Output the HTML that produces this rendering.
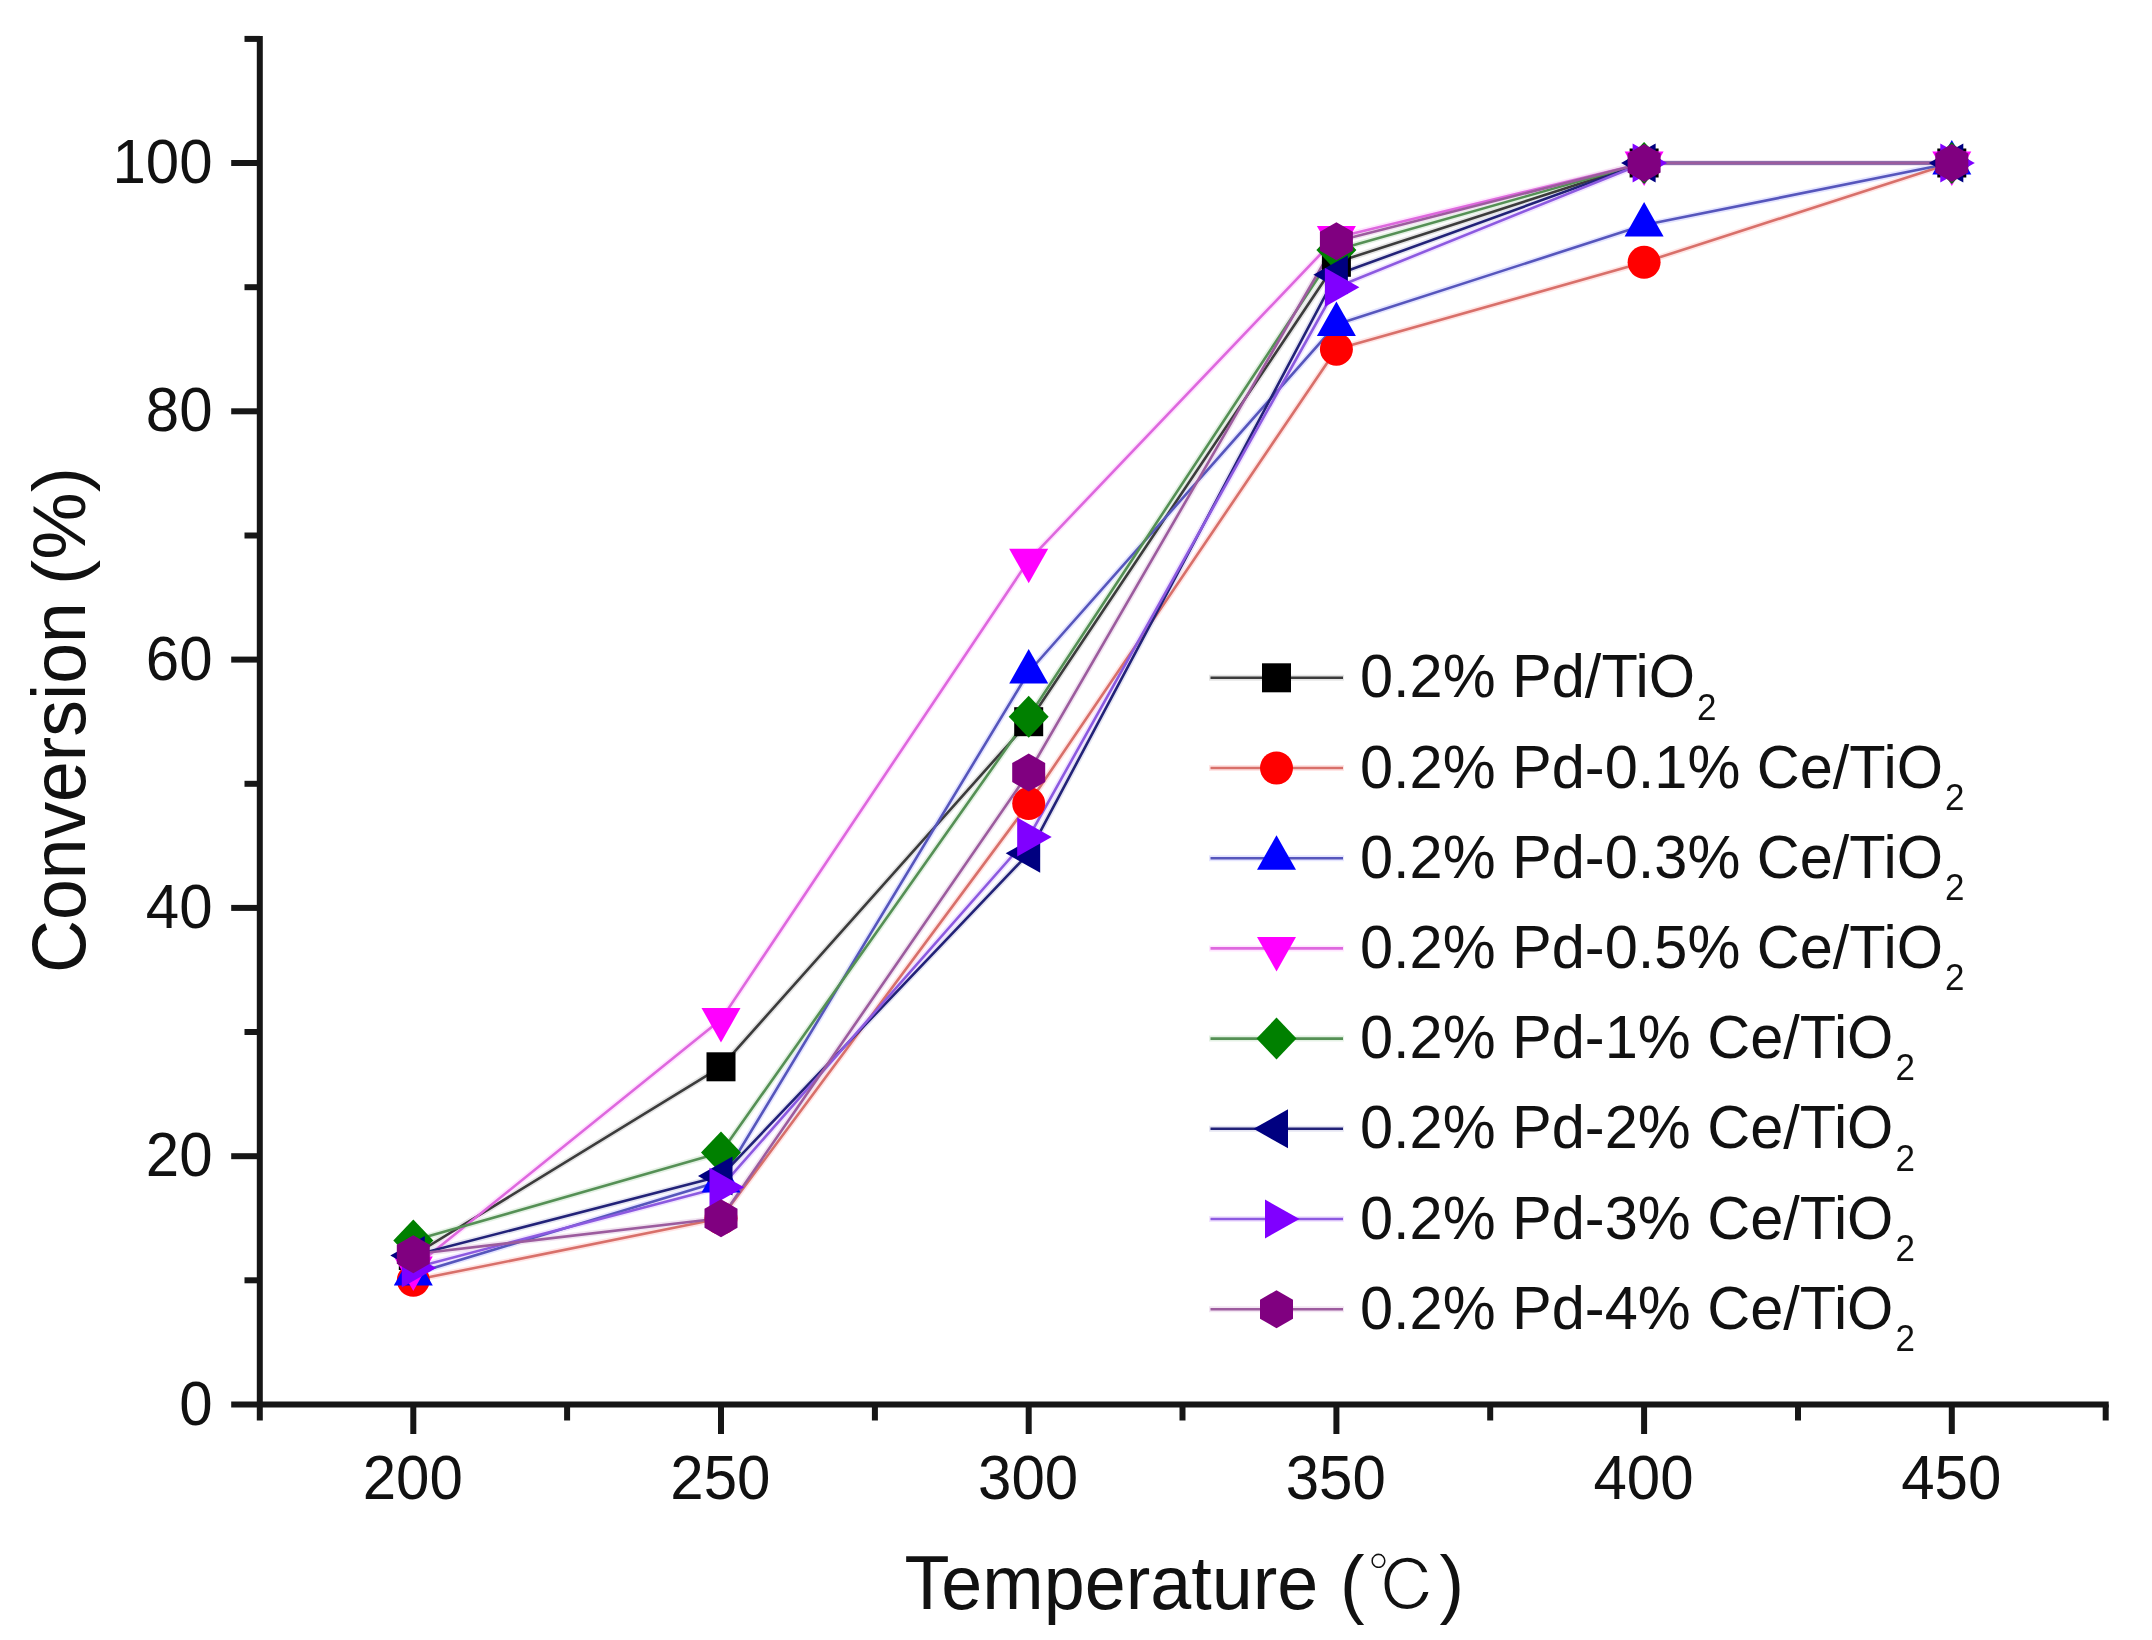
<!DOCTYPE html>
<html lang="en">
<head>
<meta charset="utf-8">
<title>Conversion vs Temperature</title>
<style>
html,body{margin:0;padding:0;background:#fff;}
body{width:2152px;height:1640px;overflow:hidden;}
svg{display:block;filter:blur(0.7px);}
text{font-family:"Liberation Sans","Noto Sans CJK SC",sans-serif;fill:#111111;}
.tick{font-size:60px;}
.lab{font-size:73.7px;}
.leg{font-size:59.5px;}
.sub{font-size:35px;}
.cjk{font-family:"Liberation Sans","IPAGothic","Noto Sans CJK SC",sans-serif;}
</style>
</head>
<body>
<svg width="2152" height="1640" viewBox="0 0 2152 1640">
<rect width="2152" height="1640" fill="#ffffff"/>
<g fill="none" stroke-width="6" stroke-linejoin="round" opacity="0.1">
<polyline points="413.3,1255.5 721,1066.8 1028.7,721.7 1336.4,262.3 1644.1,163 1951.8,163" stroke="#000000"/>
<polyline points="413.3,1280.3 721,1218.3 1028.7,803.6 1336.4,349.2 1644.1,262.3 1951.8,163" stroke="#ff0000"/>
<polyline points="413.3,1274.1 721,1181 1028.7,672 1336.4,324.4 1644.1,225.1 1951.8,163" stroke="#0000ff"/>
<polyline points="413.3,1267.9 721,1019.6 1028.7,560.3 1336.4,237.5 1644.1,163 1951.8,163" stroke="#ff00ff"/>
<polyline points="413.3,1240.6 721,1152.5 1028.7,716.7 1336.4,249.9 1644.1,163 1951.8,163" stroke="#008000"/>
<polyline points="413.3,1255.5 721,1176.1 1028.7,853.3 1336.4,274.7 1644.1,163 1951.8,163" stroke="#000080"/>
<polyline points="413.3,1267.9 721,1187.2 1028.7,837.1 1336.4,287.2 1644.1,163 1951.8,163" stroke="#8000ff"/>
<polyline points="413.3,1254.3 721,1218.3 1028.7,772.6 1336.4,241.2 1644.1,163 1951.8,163" stroke="#800080"/>
</g>
<g fill="none" stroke-width="2.6" stroke-linejoin="round">
<polyline points="413.3,1255.5 721,1066.8 1028.7,721.7 1336.4,262.3 1644.1,163 1951.8,163" stroke="#3c3c3c"/>
<polyline points="413.3,1280.3 721,1218.3 1028.7,803.6 1336.4,349.2 1644.1,262.3 1951.8,163" stroke="#d8706a"/>
<polyline points="413.3,1274.1 721,1181 1028.7,672 1336.4,324.4 1644.1,225.1 1951.8,163" stroke="#5656bc"/>
<polyline points="413.3,1267.9 721,1019.6 1028.7,560.3 1336.4,237.5 1644.1,163 1951.8,163" stroke="#de68de"/>
<polyline points="413.3,1240.6 721,1152.5 1028.7,716.7 1336.4,249.9 1644.1,163 1951.8,163" stroke="#559055"/>
<polyline points="413.3,1255.5 721,1176.1 1028.7,853.3 1336.4,274.7 1644.1,163 1951.8,163" stroke="#222278"/>
<polyline points="413.3,1267.9 721,1187.2 1028.7,837.1 1336.4,287.2 1644.1,163 1951.8,163" stroke="#8c5ae0"/>
<polyline points="413.3,1254.3 721,1218.3 1028.7,772.6 1336.4,241.2 1644.1,163 1951.8,163" stroke="#9c5c9e"/>
</g>
<g>
<rect x="398.8" y="1241" width="29" height="29" fill="#000000"/>
<rect x="706.5" y="1052.3" width="29" height="29" fill="#000000"/>
<rect x="1014.2" y="707.2" width="29" height="29" fill="#000000"/>
<rect x="1321.9" y="247.8" width="29" height="29" fill="#000000"/>
<rect x="1629.6" y="148.5" width="29" height="29" fill="#000000"/>
<rect x="1937.3" y="148.5" width="29" height="29" fill="#000000"/>
</g>
<g>
<circle cx="413.3" cy="1280.3" r="16.5" fill="#ff0000"/>
<circle cx="721" cy="1218.3" r="16.5" fill="#ff0000"/>
<circle cx="1028.7" cy="803.6" r="16.5" fill="#ff0000"/>
<circle cx="1336.4" cy="349.2" r="16.5" fill="#ff0000"/>
<circle cx="1644.1" cy="262.3" r="16.5" fill="#ff0000"/>
<circle cx="1951.8" cy="163" r="16.5" fill="#ff0000"/>
</g>
<g>
<polygon points="413.3,1251.1 393.8,1285.6 432.8,1285.6" fill="#0000ff"/>
<polygon points="721,1158 701.5,1192.5 740.5,1192.5" fill="#0000ff"/>
<polygon points="1028.7,649 1009.2,683.5 1048.2,683.5" fill="#0000ff"/>
<polygon points="1336.4,301.4 1316.9,335.9 1355.9,335.9" fill="#0000ff"/>
<polygon points="1644.1,202.1 1624.6,236.6 1663.6,236.6" fill="#0000ff"/>
<polygon points="1951.8,140 1932.3,174.5 1971.3,174.5" fill="#0000ff"/>
</g>
<g>
<polygon points="413.3,1290.9 393.8,1256.4 432.8,1256.4" fill="#ff00ff"/>
<polygon points="721,1042.6 701.5,1008.1 740.5,1008.1" fill="#ff00ff"/>
<polygon points="1028.7,583.3 1009.2,548.8 1048.2,548.8" fill="#ff00ff"/>
<polygon points="1336.4,260.5 1316.9,226 1355.9,226" fill="#ff00ff"/>
<polygon points="1644.1,186 1624.6,151.5 1663.6,151.5" fill="#ff00ff"/>
<polygon points="1951.8,186 1932.3,151.5 1971.3,151.5" fill="#ff00ff"/>
</g>
<g>
<polygon points="413.3,1219.6 433.3,1240.6 413.3,1261.6 393.3,1240.6" fill="#008000"/>
<polygon points="721,1131.5 741,1152.5 721,1173.5 701,1152.5" fill="#008000"/>
<polygon points="1028.7,695.7 1048.7,716.7 1028.7,737.7 1008.7,716.7" fill="#008000"/>
<polygon points="1336.4,228.9 1356.4,249.9 1336.4,270.9 1316.4,249.9" fill="#008000"/>
<polygon points="1644.1,142 1664.1,163 1644.1,184 1624.1,163" fill="#008000"/>
<polygon points="1951.8,142 1971.8,163 1951.8,184 1931.8,163" fill="#008000"/>
</g>
<g>
<polygon points="390.3,1255.5 424.8,1236 424.8,1275" fill="#000080"/>
<polygon points="698,1176.1 732.5,1156.6 732.5,1195.6" fill="#000080"/>
<polygon points="1005.7,853.3 1040.2,833.8 1040.2,872.8" fill="#000080"/>
<polygon points="1313.4,274.7 1347.9,255.2 1347.9,294.2" fill="#000080"/>
<polygon points="1621.1,163 1655.6,143.5 1655.6,182.5" fill="#000080"/>
<polygon points="1928.8,163 1963.3,143.5 1963.3,182.5" fill="#000080"/>
</g>
<g>
<polygon points="436.3,1267.9 401.8,1248.4 401.8,1287.4" fill="#8000ff"/>
<polygon points="744,1187.2 709.5,1167.7 709.5,1206.7" fill="#8000ff"/>
<polygon points="1051.7,837.1 1017.2,817.6 1017.2,856.6" fill="#8000ff"/>
<polygon points="1359.4,287.2 1324.9,267.7 1324.9,306.7" fill="#8000ff"/>
<polygon points="1667.1,163 1632.6,143.5 1632.6,182.5" fill="#8000ff"/>
<polygon points="1974.8,163 1940.3,143.5 1940.3,182.5" fill="#8000ff"/>
</g>
<g>
<polygon points="413.3,1235.3 429.8,1244.8 429.8,1263.8 413.3,1273.3 396.8,1263.8 396.8,1244.8" fill="#800080"/>
<polygon points="721,1199.3 737.5,1208.8 737.5,1227.8 721,1237.3 704.5,1227.8 704.5,1208.8" fill="#800080"/>
<polygon points="1028.7,753.6 1045.2,763.1 1045.2,782.1 1028.7,791.6 1012.2,782.1 1012.2,763.1" fill="#800080"/>
<polygon points="1336.4,222.2 1352.9,231.7 1352.9,250.7 1336.4,260.2 1319.9,250.7 1319.9,231.7" fill="#800080"/>
<polygon points="1644.1,144 1660.6,153.5 1660.6,172.5 1644.1,182 1627.6,172.5 1627.6,153.5" fill="#800080"/>
<polygon points="1951.8,144 1968.3,153.5 1968.3,172.5 1951.8,182 1935.3,172.5 1935.3,153.5" fill="#800080"/>
</g>
<g stroke="#161616" stroke-width="6" fill="none">
<line x1="259.8" y1="35.9" x2="259.8" y2="1420.5"/>
<line x1="231.2" y1="1404.5" x2="2108.7" y2="1404.5"/>
<line x1="244.5" y1="1280.3" x2="259.8" y2="1280.3"/>
<line x1="231.2" y1="1156.2" x2="259.8" y2="1156.2"/>
<line x1="244.5" y1="1032" x2="259.8" y2="1032"/>
<line x1="231.2" y1="907.9" x2="259.8" y2="907.9"/>
<line x1="244.5" y1="783.8" x2="259.8" y2="783.8"/>
<line x1="231.2" y1="659.6" x2="259.8" y2="659.6"/>
<line x1="244.5" y1="535.5" x2="259.8" y2="535.5"/>
<line x1="231.2" y1="411.3" x2="259.8" y2="411.3"/>
<line x1="244.5" y1="287.2" x2="259.8" y2="287.2"/>
<line x1="231.2" y1="163" x2="259.8" y2="163"/>
<line x1="244.5" y1="38.9" x2="259.8" y2="38.9"/>
<line x1="413.3" y1="1404.5" x2="413.3" y2="1434"/>
<line x1="567.1" y1="1404.5" x2="567.1" y2="1420.5"/>
<line x1="721" y1="1404.5" x2="721" y2="1434"/>
<line x1="874.9" y1="1404.5" x2="874.9" y2="1420.5"/>
<line x1="1028.7" y1="1404.5" x2="1028.7" y2="1434"/>
<line x1="1182.5" y1="1404.5" x2="1182.5" y2="1420.5"/>
<line x1="1336.4" y1="1404.5" x2="1336.4" y2="1434"/>
<line x1="1490.2" y1="1404.5" x2="1490.2" y2="1420.5"/>
<line x1="1644.1" y1="1404.5" x2="1644.1" y2="1434"/>
<line x1="1798" y1="1404.5" x2="1798" y2="1420.5"/>
<line x1="1951.8" y1="1404.5" x2="1951.8" y2="1434"/>
<line x1="2105.7" y1="1404.5" x2="2105.7" y2="1420.5"/>
</g>
<text class="tick" text-anchor="end" transform="translate(212.5,1424.5) scale(1,1.04)">0</text>
<text class="tick" text-anchor="end" transform="translate(212.5,1176.2) scale(1,1.04)">20</text>
<text class="tick" text-anchor="end" transform="translate(212.5,927.9) scale(1,1.04)">40</text>
<text class="tick" text-anchor="end" transform="translate(212.5,679.6) scale(1,1.04)">60</text>
<text class="tick" text-anchor="end" transform="translate(212.5,431.3) scale(1,1.04)">80</text>
<text class="tick" text-anchor="end" transform="translate(212.5,183) scale(1,1.04)">100</text>
<text class="tick" text-anchor="middle" transform="translate(412.7,1498.5) scale(1,1.04)">200</text>
<text class="tick" text-anchor="middle" transform="translate(720.4,1498.5) scale(1,1.04)">250</text>
<text class="tick" text-anchor="middle" transform="translate(1028.1,1498.5) scale(1,1.04)">300</text>
<text class="tick" text-anchor="middle" transform="translate(1335.8,1498.5) scale(1,1.04)">350</text>
<text class="tick" text-anchor="middle" transform="translate(1643.5,1498.5) scale(1,1.04)">400</text>
<text class="tick" text-anchor="middle" transform="translate(1951.2,1498.5) scale(1,1.04)">450</text>
<text class="lab" transform="translate(904.5,1608.5) scale(1,1.04)">Temperature</text>
<text class="lab" transform="translate(1340,1608.5) scale(1,1.04)">(</text>
<text class="lab cjk" stroke="#ffffff" stroke-width="1.6" transform="translate(1367,1612) scale(0.95,0.97)">℃</text>
<text class="lab" transform="translate(1439.5,1608.5) scale(1,1.04)">)</text>
<text class="lab" style="font-size:73.3px" transform="translate(84.5,973) rotate(-90) scale(1,1.04)">Conversion</text>
<text class="lab" style="font-size:76px" transform="translate(84.5,585) rotate(-90) scale(1,0.98)">(%)</text>
<line x1="1209" y1="677.8" x2="1344" y2="677.8" stroke="#000000" stroke-width="6" stroke-opacity="0.1"/>
<line x1="1210.5" y1="677.8" x2="1343" y2="677.8" stroke="#3c3c3c" stroke-width="2.6"/>
<rect x="1262" y="663.3" width="29" height="29" fill="#000000"/>
<text class="leg" transform="translate(1360,697.3) scale(1,1.04)">0.2% Pd/TiO<tspan class="sub" dx="2" dy="21.5">2</tspan></text>
<line x1="1209" y1="768" x2="1344" y2="768" stroke="#ff0000" stroke-width="6" stroke-opacity="0.1"/>
<line x1="1210.5" y1="768" x2="1343" y2="768" stroke="#d8706a" stroke-width="2.6"/>
<circle cx="1276.5" cy="768" r="16.5" fill="#ff0000"/>
<text class="leg" transform="translate(1360,787.5) scale(1,1.04)">0.2% Pd-0.1% Ce/TiO<tspan class="sub" dx="2" dy="21.5">2</tspan></text>
<line x1="1209" y1="858.2" x2="1344" y2="858.2" stroke="#0000ff" stroke-width="6" stroke-opacity="0.1"/>
<line x1="1210.5" y1="858.2" x2="1343" y2="858.2" stroke="#5656bc" stroke-width="2.6"/>
<polygon points="1276.5,835.2 1257,869.7 1296,869.7" fill="#0000ff"/>
<text class="leg" transform="translate(1360,877.7) scale(1,1.04)">0.2% Pd-0.3% Ce/TiO<tspan class="sub" dx="2" dy="21.5">2</tspan></text>
<line x1="1209" y1="948.4" x2="1344" y2="948.4" stroke="#ff00ff" stroke-width="6" stroke-opacity="0.1"/>
<line x1="1210.5" y1="948.4" x2="1343" y2="948.4" stroke="#de68de" stroke-width="2.6"/>
<polygon points="1276.5,971.4 1257,936.9 1296,936.9" fill="#ff00ff"/>
<text class="leg" transform="translate(1360,967.9) scale(1,1.04)">0.2% Pd-0.5% Ce/TiO<tspan class="sub" dx="2" dy="21.5">2</tspan></text>
<line x1="1209" y1="1038.6" x2="1344" y2="1038.6" stroke="#008000" stroke-width="6" stroke-opacity="0.1"/>
<line x1="1210.5" y1="1038.6" x2="1343" y2="1038.6" stroke="#559055" stroke-width="2.6"/>
<polygon points="1276.5,1017.6 1296.5,1038.6 1276.5,1059.6 1256.5,1038.6" fill="#008000"/>
<text class="leg" transform="translate(1360,1058.1) scale(1,1.04)">0.2% Pd-1% Ce/TiO<tspan class="sub" dx="2" dy="21.5">2</tspan></text>
<line x1="1209" y1="1128.8" x2="1344" y2="1128.8" stroke="#000080" stroke-width="6" stroke-opacity="0.1"/>
<line x1="1210.5" y1="1128.8" x2="1343" y2="1128.8" stroke="#222278" stroke-width="2.6"/>
<polygon points="1253.5,1128.8 1288,1109.3 1288,1148.3" fill="#000080"/>
<text class="leg" transform="translate(1360,1148.3) scale(1,1.04)">0.2% Pd-2% Ce/TiO<tspan class="sub" dx="2" dy="21.5">2</tspan></text>
<line x1="1209" y1="1219" x2="1344" y2="1219" stroke="#8000ff" stroke-width="6" stroke-opacity="0.1"/>
<line x1="1210.5" y1="1219" x2="1343" y2="1219" stroke="#8c5ae0" stroke-width="2.6"/>
<polygon points="1299.5,1219 1265,1199.5 1265,1238.5" fill="#8000ff"/>
<text class="leg" transform="translate(1360,1238.5) scale(1,1.04)">0.2% Pd-3% Ce/TiO<tspan class="sub" dx="2" dy="21.5">2</tspan></text>
<line x1="1209" y1="1309.2" x2="1344" y2="1309.2" stroke="#800080" stroke-width="6" stroke-opacity="0.1"/>
<line x1="1210.5" y1="1309.2" x2="1343" y2="1309.2" stroke="#9c5c9e" stroke-width="2.6"/>
<polygon points="1276.5,1290.2 1293,1299.7 1293,1318.7 1276.5,1328.2 1260,1318.7 1260,1299.7" fill="#800080"/>
<text class="leg" transform="translate(1360,1328.7) scale(1,1.04)">0.2% Pd-4% Ce/TiO<tspan class="sub" dx="2" dy="21.5">2</tspan></text>
</svg>
</body>
</html>
